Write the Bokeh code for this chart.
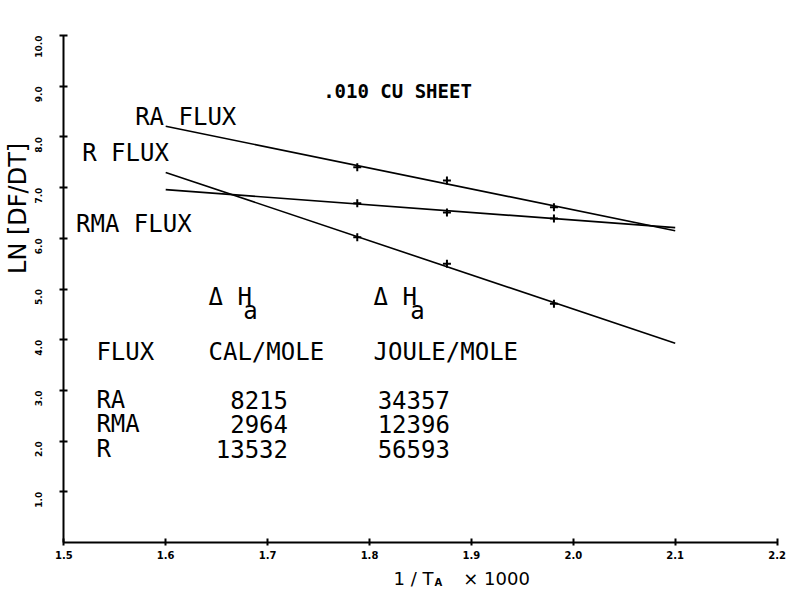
import math
from bokeh.plotting import figure
from bokeh.models import Range1d, FixedTicker, Label, PrintfTickFormatter, ColumnDataSource
from bokeh.core.properties import value
from bokeh.embed import file_html
from bokeh.resources import INLINE

# ---------------- data ----------------
x_tick_values = [1.5, 1.6, 1.7, 1.8, 1.9, 2.0, 2.1, 2.2]
y_tick_values = [1, 2, 3, 4, 5, 6, 7, 8, 9, 10]

inv_temp = [1.788, 1.876, 1.981]          # 1/T x 1000
ra_points = [7.40, 7.14, 6.61]
rma_points = [6.69, 6.51, 6.39]
r_points = [6.02, 5.50, 4.71]

fit_x = [1.60, 2.10]
ra_fit = [8.21, 6.15]
rma_fit = [6.96, 6.21]
r_fit = [7.30, 3.93]

flux_names = ["RA", "RMA", "R"]
cal_per_mole = [8215, 2964, 13532]
joule_per_mole = [34357, 12396, 56593]

# ---------------- layout ----------------
W, H = 801, 591
X_ORIGIN_PX, X_PX_PER_UNIT = 63.3, 1019.0   # where x=1.5 sits, px per unit
Y_ORIGIN_PX, Y_PX_PER_UNIT = 542.0, 50.7    # where y=0 sits, px per unit
x_lo = 1.5 - X_ORIGIN_PX / X_PX_PER_UNIT
x_hi = 1.5 + (W - X_ORIGIN_PX) / X_PX_PER_UNIT
y_lo = -(H - Y_ORIGIN_PX) / Y_PX_PER_UNIT
y_hi = Y_ORIGIN_PX / Y_PX_PER_UNIT

FONT = "DejaVu Sans Mono"
p = figure(width=W, height=H, x_range=Range1d(x_lo, x_hi), y_range=Range1d(y_lo, y_hi),
           output_backend="svg", toolbar_location=None,
           min_border_left=0, min_border_right=0, min_border_top=0, min_border_bottom=0)
p.outline_line_color = None
p.grid.visible = False
p.background_fill_color = "white"
p.border_fill_color = "white"

for ax in (p.xaxis, p.yaxis):
    ax.axis_line_width = 2
    ax.axis_line_color = "black"
    ax.major_tick_line_width = 2
    ax.major_tick_line_color = "black"
    ax.minor_tick_line_color = None
    ax.major_label_text_font = "DejaVu Sans"
    ax.major_label_text_font_style = "bold"
    ax.major_label_text_color = "black"
    ax.formatter = PrintfTickFormatter(format="%.1f")

p.xaxis.fixed_location = 0
p.xaxis.bounds = (1.5, 2.2)
p.xaxis.ticker = FixedTicker(ticks=x_tick_values)
p.xaxis.major_tick_in = 4
p.xaxis.major_tick_out = 3
p.xaxis.major_label_standoff = 5
p.xaxis.major_label_text_font_size = "10px"

p.yaxis.fixed_location = 1.5
p.yaxis.bounds = (0, 10)
p.yaxis.ticker = FixedTicker(ticks=y_tick_values)
p.yaxis.major_tick_in = 4
p.yaxis.major_tick_out = 4
p.yaxis.major_label_standoff = 21
p.yaxis.major_label_text_font_size = "9px"
p.yaxis.major_label_orientation = math.pi / 2

# fitted lines
for ys in (ra_fit, rma_fit, r_fit):
    p.line(fit_x, ys, line_color="black", line_width=1.6)

# data points
for ys in (ra_points, rma_points, r_points):
    p.scatter(inv_temp, ys, marker="cross", size=8, line_color="black", line_width=2)

def txt(x, y, s, size="24px", align="left", style="normal", font=FONT, angle=0.0, baseline="alphabetic"):
    p.add_layout(Label(x=x, y=y, text=s, text_font=font, text_font_size=size,
                       text_align=align, text_baseline=baseline, text_color="black",
                       text_font_style=style, angle=angle))

# curve labels
txt(1.570, 8.40, "RA FLUX")
txt(1.518, 7.69, "R FLUX")
txt(1.512, 6.29, "RMA FLUX")

# title
txt(1.8275, 8.91, ".010 CU SHEET", size="19px", align="center", style="bold")

# table
col1_x, col2_x, col2_num_right, col3_x = 1.532, 1.642, 1.720, 1.804
txt(col2_x, 4.85, "\u0394 H")
txt(1.676, 4.56, "a")
txt(col3_x, 4.85, "\u0394 H")
txt(1.840, 4.56, "a")
txt(col1_x, 3.75, "FLUX")
txt(col2_x, 3.75, "CAL/MOLE")
txt(col3_x, 3.75, "JOULE/MOLE")

src = ColumnDataSource(dict(
    name=flux_names,
    cal=[str(v) for v in cal_per_mole],
    joule=[str(v) for v in joule_per_mole],
    row_y=[2.82, 2.33, 1.85],
))
common = dict(source=src, text_font=value(FONT), text_font_size="24px",
              text_baseline="alphabetic", text_color="black")
p.text(x=col1_x, y="row_y", text="name", text_align="left", **common)
p.text(x=col2_num_right, y="row_y", text="cal", text_align="right", **common)
p.text(x=col3_x + 0.004, y="row_y", text="joule", text_align="left", **common)

# axis titles
txt(1.4546, 6.59, "LN [DF/DT]", size="24px", align="center", font="DejaVu Sans",
    angle=math.pi / 2, baseline="middle")
txt(1.8628, -0.71, "1 / T", size="18px", align="right", font="DejaVu Sans")
txt(1.8637, -0.79, "A", size="10px", align="left", font="DejaVu Sans", style="bold")
txt(1.8920, -0.71, "\u00d7   1000", size="18px", align="left", font="DejaVu Sans")

open("out.html", "w").write(file_html(p, INLINE))
